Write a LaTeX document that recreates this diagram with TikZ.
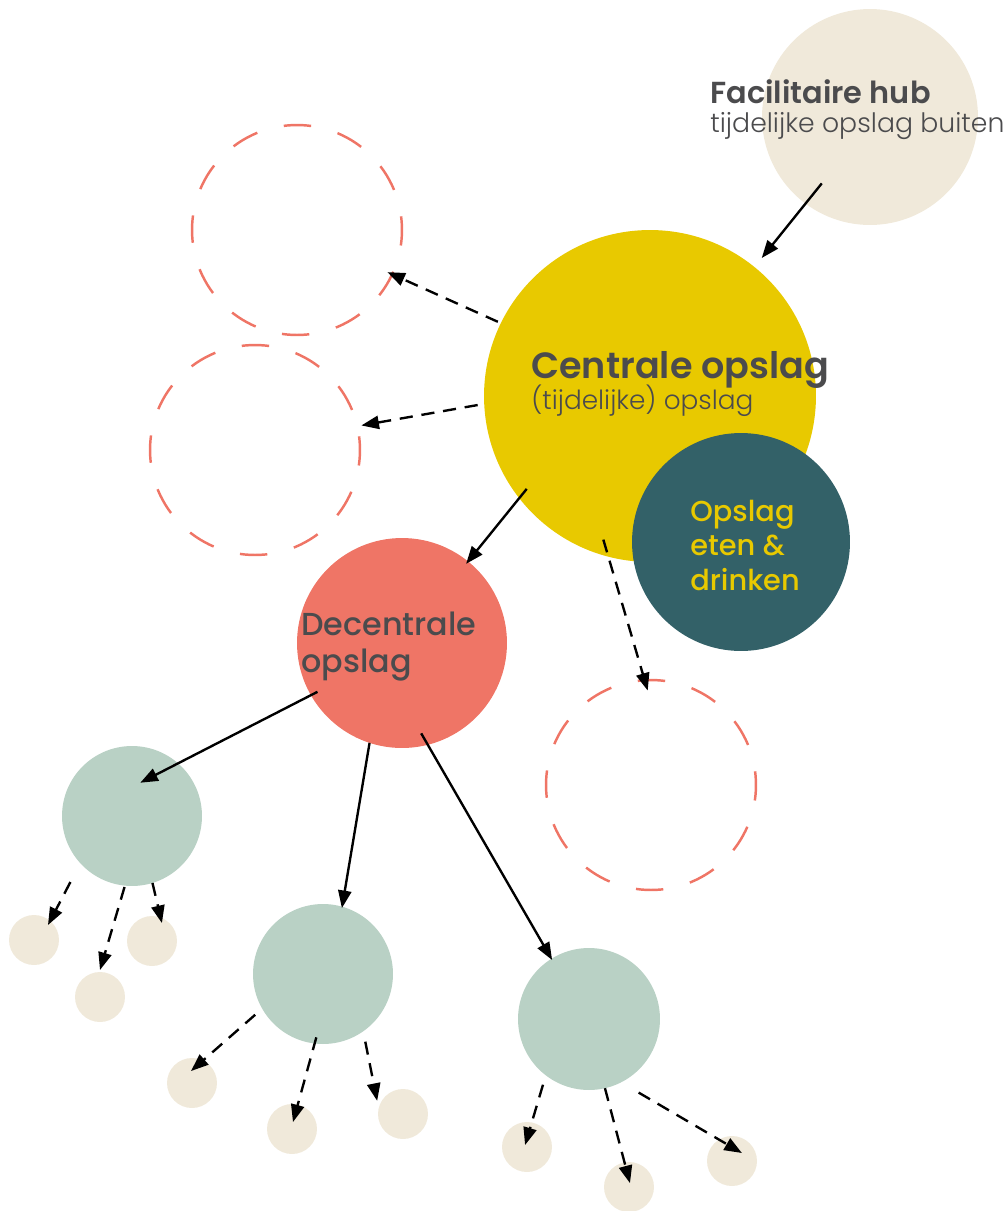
\documentclass[tikz,border=0pt]{standalone}
\usepackage{fontspec}
\setmainfont{Poppins}
\newfontfamily\popsemi{Poppins SemiBold}
\newfontfamily\popmed{Poppins Medium}
\newfontfamily\poplight{Poppins Light}
\usetikzlibrary{arrows.meta,calc}

\definecolor{sand}{RGB}{240,233,218}
\definecolor{mustard}{RGB}{232,201,0}
\definecolor{petrol}{RGB}{51,97,104}
\definecolor{coral}{RGB}{239,117,102}
\definecolor{sage}{RGB}{185,209,197}
\definecolor{ink}{RGB}{75,75,77}

\tikzset{
  blob/.style={circle,inner sep=0pt,outer sep=0pt},
  ghost/.style={circle,draw=coral,line width=1.4pt,inner sep=0pt,outer sep=0pt,
    minimum size=4.2cm,dash pattern=on 15.6pt off 15.6pt,dash phase=7.8pt},
  flow/.style={-{Triangle[length=10pt,width=7.5pt]},line width=1.35pt},
  maybe/.style={flow,dash pattern=on 7.5pt off 5pt},
  txt/.style={anchor=base west,inner sep=0pt,text=ink}
}

\begin{document}
\begin{tikzpicture}[x=0.02cm,y=-0.02cm]
  \useasboundingbox (0,0) rectangle (1006,1211);

  % storage circles
  \node[blob,fill=sand,minimum size=4.32cm] (hub) at (870,117) {};
  \node[blob,fill=mustard,minimum size=6.64cm] (central) at (650,396) {};
  \node[blob,fill=petrol,minimum size=4.36cm] (food) at (741,542) {};
  \node[ghost] (ghostA) at (297,230) {};
  \node[ghost] (ghostB) at (255,450) {};
  \node[ghost] (ghostC) at (651,785) {};
  \node[blob,fill=coral,minimum size=4.2cm] (deco) at (402,643) {};

  \node[blob,fill=sage,minimum size=2.8cm] (leafA) at (132,816) {};
  \node[blob,fill=sage,minimum size=2.8cm] (leafB) at (323,974) {};
  \node[blob,fill=sage,minimum size=2.84cm] (leafC) at (589,1019) {};

  \node[blob,fill=sand,minimum size=1cm] (budA1) at (34,940) {};
  \node[blob,fill=sand,minimum size=1cm] (budA2) at (100,997) {};
  \node[blob,fill=sand,minimum size=1cm] (budA3) at (152,941) {};
  \node[blob,fill=sand,minimum size=1cm] (budB1) at (192,1083) {};
  \node[blob,fill=sand,minimum size=1cm] (budB2) at (292,1129) {};
  \node[blob,fill=sand,minimum size=1cm] (budB3) at (403,1114) {};
  \node[blob,fill=sand,minimum size=1cm] (budC1) at (527,1147) {};
  \node[blob,fill=sand,minimum size=1cm] (budC2) at (629,1187) {};
  \node[blob,fill=sand,minimum size=1cm] (budC3) at (732,1161) {};

  % labels (base = last line)
  \node[txt,font=\popsemi\fontsize{17.3}{20}\selectfont] (hubtitle) at (710,103) {Facilitaire hub};
  \node[txt,font=\poplight\fontsize{15.2}{18}\selectfont] (hubsub) at (710,132) {tijdelijke opslag buiten};
  \node[txt,font=\popsemi\fontsize{20.8}{24}\selectfont] (centraltitle) at (531,378) {Centrale opslag};
  \node[txt,font=\poplight\fontsize{15}{18}\selectfont] (centralsub) at (531,409) {(tijdelijke) opslag};
  \node[txt,text=mustard,align=left,font=\popmed\fontsize{16.4}{19.5}\selectfont] (foodtxt) at (690,590)
    {Opslag\\eten \&\\drinken};
  \node[txt,align=left,font=\popmed\fontsize{18.1}{21}\selectfont] (decotxt) at (301,672)
    {Decentrale\\opslag};

  % flows
  \draw[flow] ($(hub)!.76!(hub.234)$) -- ($(central)!1.07!(central.51)$);
  \draw[maybe] ($(central)!1.02!(central.154)$) -- ($(ghostA)!.95!(ghostA.335)$);
  \draw[maybe] ($(central)!1.04!(central.183)$) -- ($(ghostB)!1.04!(ghostB.13)$);
  \draw[flow] ($(central)!.93!(central.217)$) -- ($(deco)!.97!(deco.51)$);
  \draw[maybe] ($(central)!.91!(central.252)$) -- ($(ghostC)!.9!(ghostC.92)$);

  \draw[flow] ($(deco)!.93!(deco.210)$) -- ($(leafA)!.49!(leafA.76)$);
  \draw[flow] (deco.252) -- ($(leafB)!.98!(leafB.74)$);
  \draw[flow] ($(deco)!.88!(deco.282)$) -- ($(leafC)!.98!(leafC.122)$);

  \draw[maybe] ($(leafA)!1.29!(leafA.227)$) -- ($(budA1)!.82!(budA1.47)$);
  \draw[maybe] ($(leafA)!1.02!(leafA.264)$) -- ($(budA2)!1.08!(budA2.90)$);
  \draw[maybe] (leafA.287) -- ($(budA3)!.82!(budA3.61)$);

  \draw[maybe] ($(leafB)!1.13!(leafB.211)$) -- ($(budB1)!.48!(budB1.95)$);
  \draw[maybe] ($(leafB)!.91!(leafB.264)$) -- ($(budB2)!.28!(budB2.82)$);
  \draw[maybe] ($(leafB)!1.14!(leafB.302)$) -- ($(budB3)!1.16!(budB3.153)$);

  \draw[maybe] ($(leafC)!1.13!(leafC.235)$) -- ($(budC1)!.11!(budC1.135)$);
  \draw[maybe] (leafC.283) -- ($(budC2)!.16!(budC2.76)$);
  \draw[maybe] ($(leafC)!1.25!(leafC.304)$) -- ($(budC3)!.51!(budC3.39)$);
\end{tikzpicture}
\end{document}
